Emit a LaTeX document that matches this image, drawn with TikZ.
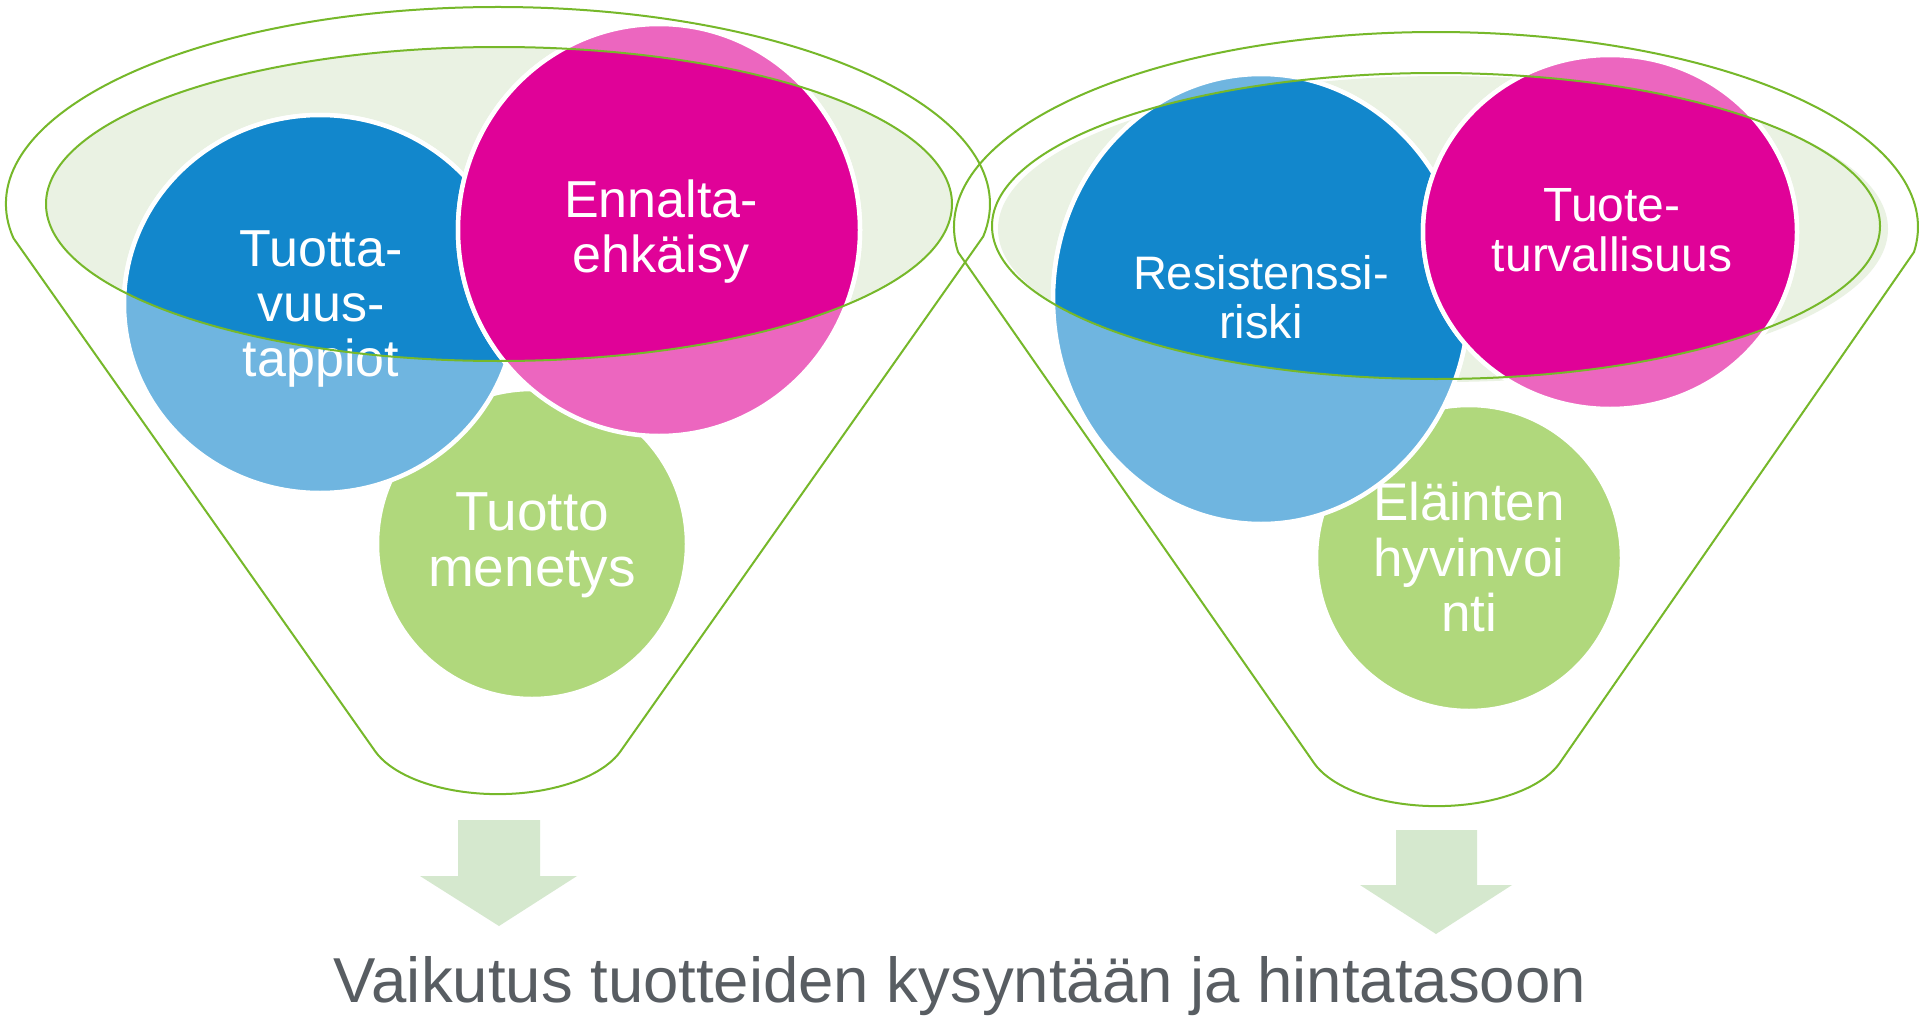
\documentclass[tikz,border=0pt]{standalone}
\usepackage{fontspec}
\setmainfont{Liberation Sans}
\definecolor{lineg}{RGB}{118,184,42}
\definecolor{efill}{RGB}{234,242,227}
\definecolor{bdark}{RGB}{18,135,204}
\definecolor{blight}{RGB}{111,181,224}
\definecolor{pdark}{RGB}{224,2,152}
\definecolor{plight}{RGB}{236,102,191}
\definecolor{cgreen}{RGB}{176,216,124}
\definecolor{arrowg}{RGB}{213,232,206}
\definecolor{txtgray}{RGB}{88,93,98}
\tikzset{
  funnelline/.style={draw=lineg, line width=2pt, line join=round},
  circ/.style={draw=white, line width=4.5pt},
  lbl/.style={text=white, align=center, inner sep=0pt},
  bigf/.style={font=\fontsize{52}{55}\selectfont},
  arrowbox/.style={fill=arrowg, draw=none}
}
\begin{document}
\begin{tikzpicture}[x=1pt,y=-1pt]
\useasboundingbox (0,0) rectangle (1920,1017);
\fill[white] (0,0) rectangle (1920,1017);

% ---------- outer funnel outlines ----------
\draw[funnelline] (498,204) ++(170:492 and 197)
  arc[start angle=170, end angle=369.5, x radius=492, y radius=197]
  -- (620,752)
  arc[start angle=20, end angle=160, x radius=130, y radius=64]
  -- cycle;
\draw[funnelline] (1436,227) ++(172.6:482 and 195)
  arc[start angle=172.6, end angle=367.4, x radius=482, y radius=195]
  -- (1559,764)
  arc[start angle=20, end angle=160, x radius=130, y radius=64]
  -- cycle;

% ---------- inner ellipse fills ----------
\fill[efill] (499,204) ellipse [x radius=453, y radius=157];
\fill[efill] (1443,229) ellipse [x radius=445, y radius=153];

% ================= LEFT FUNNEL =================
% green circle
\path[circ, fill=cgreen] (532,544) circle [radius=155];
\node[lbl, font=\fontsize{55}{56}\selectfont] (lg) at (532,545) {Tuotto\\menetys};
% blue circle
\path[circ, fill=blight] (320,304) ellipse [x radius=196, y radius=189];
\begin{scope}
  \clip (499,204) ellipse [x radius=453, y radius=157];
  \path[circ, fill=bdark] (320,304) ellipse [x radius=196, y radius=189];
\end{scope}
\node[lbl, bigf] (lb) at (321,309) {Tuotta-\\vuus-\\tappiot};
% pink circle
\path[circ, fill=plight] (659,230) ellipse [x radius=201, y radius=206];
\begin{scope}
  \clip (499,204) ellipse [x radius=453, y radius=157];
  \path[circ, fill=pdark] (659,230) ellipse [x radius=201, y radius=206];
\end{scope}
\node[lbl, bigf] (lp) at (661,232) {Ennalta-\\ehkäisy};
% ellipse outline
\draw[funnelline] (499,204) ellipse [x radius=453, y radius=157];

% ================= RIGHT FUNNEL =================
% green circle
\path[circ, fill=cgreen] (1469,558) circle [radius=153];
\node[lbl, font=\fontsize{53}{55.5}\selectfont] (rg) at (1469,557) {Eläinten\\hyvinvoi\\nti};
% blue circle
\path[circ, fill=blight] (1261,299) ellipse [x radius=208, y radius=225];
\begin{scope}
  \clip (1436,226) ellipse [x radius=444, y radius=153];
  \path[circ, fill=bdark] (1261,299) ellipse [x radius=208, y radius=225];
\end{scope}
\node[lbl, font=\fontsize{47}{49.5}\selectfont] (rb) at (1261,297) {Resistenssi-\\riski};
% pink circle
\path[circ, fill=plight] (1610,232) ellipse [x radius=187, y radius=177];
\begin{scope}
  \clip (1436,226) ellipse [x radius=444, y radius=153];
  \path[circ, fill=pdark] (1610,232) ellipse [x radius=187, y radius=177];
\end{scope}
\node[lbl, font=\fontsize{48}{50}\selectfont] (rp) at (1612,230) {Tuote-\\turvallisuus};
% ellipse outline
\draw[funnelline] (1436,226) ellipse [x radius=444, y radius=153];

% ---------- arrows ----------
\fill[arrowbox] (458,820) -- (540,820) -- (540,876) -- (577,876) -- (499,926)
  -- (420,876) -- (458,876) -- cycle;
\fill[arrowbox] (1396,830) -- (1477,830) -- (1477,885) -- (1512,885) -- (1436,934)
  -- (1360,885) -- (1396,885) -- cycle;

% ---------- bottom text ----------
\node[anchor=base, inner sep=0pt, text=txtgray, font=\fontsize{63.5}{70}\selectfont]
  (bottom) at (960,1002) {Vaikutus tuotteiden kysyntään ja hintatasoon};
\end{tikzpicture}
\end{document}
